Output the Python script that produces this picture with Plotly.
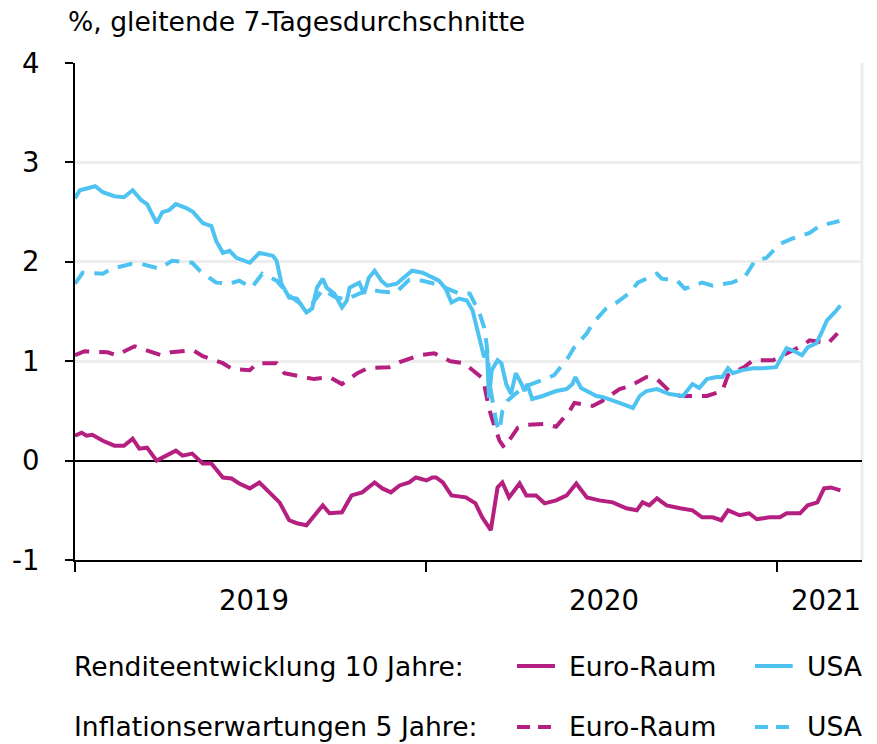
import plotly.graph_objects as go

# ---------------- data ----------------
us_yield_dates = [
    "2019-01-01", "2019-01-06", "2019-01-22", "2019-01-30", "2019-02-11", "2019-02-21",
    "2019-03-02", "2019-03-11", "2019-03-17", "2019-03-27", "2019-04-02", "2019-04-09",
    "2019-04-16", "2019-04-27", "2019-05-04", "2019-05-14", "2019-05-23", "2019-05-28",
    "2019-06-04", "2019-06-11", "2019-06-18", "2019-07-02", "2019-07-12", "2019-07-26",
    "2019-07-30", "2019-08-04", "2019-08-12", "2019-08-20", "2019-08-30", "2019-09-05",
    "2019-09-10", "2019-09-16", "2019-09-20", "2019-09-28", "2019-10-06", "2019-10-11",
    "2019-10-14", "2019-10-24", "2019-10-29", "2019-11-03", "2019-11-09", "2019-11-16",
    "2019-11-22", "2019-12-02", "2019-12-08", "2019-12-18", "2019-12-29",
    "2020-01-08", "2020-01-15", "2020-01-22", "2020-01-28", "2020-02-05", "2020-02-13",
    "2020-02-19", "2020-02-24", "2020-02-28", "2020-03-02", "2020-03-05", "2020-03-07",
    "2020-03-10", "2020-03-16", "2020-03-20", "2020-03-25", "2020-03-30", "2020-04-04",
    "2020-04-10", "2020-04-13", "2020-04-16", "2020-04-21", "2020-05-02", "2020-05-16",
    "2020-05-27", "2020-06-02", "2020-06-05", "2020-06-11", "2020-06-27", "2020-07-03",
    "2020-07-21", "2020-08-04", "2020-08-11", "2020-08-18", "2020-08-29", "2020-09-11",
    "2020-09-25", "2020-10-05", "2020-10-12", "2020-10-20", "2020-10-30", "2020-11-05",
    "2020-11-11", "2020-11-16", "2020-11-26", "2020-12-07", "2020-12-17", "2020-12-31",
    "2021-01-04", "2021-01-11", "2021-01-17", "2021-01-27", "2021-02-02", "2021-02-11",
    "2021-02-16", "2021-02-22", "2021-03-02", "2021-03-08",
]
us_yield = [
    2.64, 2.72, 2.76, 2.70, 2.66, 2.65,
    2.72, 2.62, 2.58, 2.39, 2.50, 2.52,
    2.58, 2.54, 2.50, 2.39, 2.36, 2.21,
    2.09, 2.11, 2.04, 1.99, 2.09, 2.06,
    2.01, 1.78, 1.64, 1.63, 1.49, 1.53,
    1.74, 1.83, 1.74, 1.68, 1.54, 1.61,
    1.74, 1.79, 1.68, 1.84, 1.91, 1.81,
    1.76, 1.78, 1.83, 1.91, 1.89,
    1.84, 1.81, 1.73, 1.59, 1.63, 1.61,
    1.51, 1.31, 1.18, 1.04, 1.11, 0.63,
    0.91, 1.01, 0.98, 0.77, 0.67, 0.88,
    0.77, 0.70, 0.77, 0.62, 0.65, 0.70,
    0.72, 0.77, 0.84, 0.73, 0.65, 0.64,
    0.58, 0.53, 0.65, 0.70, 0.72, 0.67,
    0.65, 0.77, 0.73, 0.82, 0.84, 0.84,
    0.93, 0.88, 0.91, 0.93, 0.93, 0.94,
    1.01, 1.13, 1.11, 1.06, 1.14, 1.18,
    1.28, 1.41, 1.49, 1.56,
]

eu_yield_dates = [
    "2019-01-01", "2019-01-08", "2019-01-13", "2019-01-19", "2019-01-30", "2019-02-11",
    "2019-02-21", "2019-03-02", "2019-03-09", "2019-03-17", "2019-03-27", "2019-04-06",
    "2019-04-16", "2019-04-23", "2019-05-03", "2019-05-14", "2019-05-23", "2019-06-04",
    "2019-06-13", "2019-06-21", "2019-07-02", "2019-07-12", "2019-07-23", "2019-08-02",
    "2019-08-12", "2019-08-20", "2019-08-30", "2019-09-09", "2019-09-16", "2019-09-23",
    "2019-10-06", "2019-10-16", "2019-10-27", "2019-11-09", "2019-11-17", "2019-11-26",
    "2019-12-05", "2019-12-15", "2019-12-22",
    "2020-01-02", "2020-01-08", "2020-01-12", "2020-01-19", "2020-01-28", "2020-02-12",
    "2020-02-22", "2020-02-29", "2020-03-09", "2020-03-16", "2020-03-21", "2020-03-28",
    "2020-04-08", "2020-04-15", "2020-04-25", "2020-05-04", "2020-05-16", "2020-05-27",
    "2020-06-06", "2020-06-17", "2020-06-30", "2020-07-14", "2020-07-28", "2020-08-08",
    "2020-08-14", "2020-08-21", "2020-08-29", "2020-09-08", "2020-09-22", "2020-10-05",
    "2020-10-15", "2020-10-26", "2020-11-04", "2020-11-11", "2020-11-23", "2020-12-03",
    "2020-12-11", "2020-12-24",
    "2021-01-04", "2021-01-11", "2021-01-25", "2021-02-02", "2021-02-12", "2021-02-19",
    "2021-02-26", "2021-03-08",
]
eu_yield = [
    0.25, 0.28, 0.25, 0.26, 0.20, 0.15,
    0.15, 0.22, 0.12, 0.13, 0.00, 0.05,
    0.10, 0.05, 0.07, -0.03, -0.03, -0.17,
    -0.18, -0.23, -0.28, -0.22, -0.33, -0.42,
    -0.60, -0.63, -0.65, -0.53, -0.45, -0.53,
    -0.52, -0.35, -0.32, -0.22, -0.28, -0.32,
    -0.25, -0.22, -0.17,
    -0.20, -0.17, -0.17, -0.22, -0.35, -0.37,
    -0.43, -0.57, -0.70, -0.27, -0.22, -0.37,
    -0.23, -0.35, -0.35, -0.43, -0.40, -0.35,
    -0.23, -0.37, -0.40, -0.42, -0.48, -0.50,
    -0.42, -0.45, -0.38, -0.45, -0.48, -0.50,
    -0.57, -0.57, -0.60, -0.50, -0.55, -0.53,
    -0.59, -0.57,
    -0.57, -0.53, -0.53, -0.45, -0.42, -0.28,
    -0.27, -0.30,
]

eu_infl_dates = [
    "2019-01-01", "2019-01-11", "2019-02-04", "2019-02-13", "2019-03-04", "2019-03-17",
    "2019-04-01", "2019-04-11", "2019-05-04", "2019-05-14", "2019-06-04", "2019-06-14",
    "2019-07-02", "2019-07-10", "2019-07-30", "2019-08-07", "2019-08-28", "2019-09-07",
    "2019-09-23", "2019-10-06", "2019-10-22", "2019-11-02", "2019-11-24", "2019-12-05",
    "2019-12-26",
    "2020-01-10", "2020-01-27", "2020-02-10", "2020-02-28", "2020-03-02", "2020-03-07",
    "2020-03-10", "2020-03-18", "2020-03-23", "2020-04-06", "2020-04-15", "2020-05-04",
    "2020-05-16", "2020-05-30", "2020-06-04", "2020-06-23", "2020-07-03", "2020-07-21",
    "2020-08-01", "2020-08-18", "2020-08-29", "2020-09-11", "2020-09-22", "2020-10-09",
    "2020-10-20", "2020-11-05", "2020-11-11", "2020-11-28", "2020-12-07", "2020-12-28",
    "2021-01-07", "2021-01-28", "2021-02-04", "2021-02-23", "2021-03-05",
]
eu_infl = [
    1.06, 1.10, 1.09, 1.06, 1.15, 1.11,
    1.06, 1.09, 1.11, 1.05, 0.98, 0.92,
    0.91, 0.98, 0.98, 0.88, 0.84, 0.82,
    0.84, 0.77, 0.88, 0.93, 0.94, 0.99,
    1.06,
    1.08, 1.00, 0.98, 0.84, 0.77, 0.53,
    0.43, 0.20, 0.13, 0.33, 0.36, 0.37,
    0.34, 0.50, 0.58, 0.55, 0.60, 0.72,
    0.75, 0.84, 0.82, 0.70, 0.65, 0.65,
    0.65, 0.70, 0.86, 0.94, 1.01, 1.01,
    1.06, 1.16, 1.21, 1.18, 1.28,
]

us_infl_dates = [
    "2019-01-01", "2019-01-09", "2019-01-30", "2019-02-08", "2019-03-01", "2019-03-11",
    "2019-03-30", "2019-04-12", "2019-05-03", "2019-05-11", "2019-05-28", "2019-06-11",
    "2019-06-21", "2019-07-04", "2019-07-15", "2019-07-30", "2019-08-12", "2019-08-25",
    "2019-09-05", "2019-09-16", "2019-09-28", "2019-10-10", "2019-10-24", "2019-11-05",
    "2019-11-16", "2019-12-01", "2019-12-15", "2019-12-29",
    "2020-01-14", "2020-02-05", "2020-02-16", "2020-02-26", "2020-03-02", "2020-03-05",
    "2020-03-09", "2020-03-15", "2020-03-18", "2020-03-21", "2020-03-26", "2020-04-12",
    "2020-05-04", "2020-05-14", "2020-05-28", "2020-06-04", "2020-06-17", "2020-06-23",
    "2020-07-07", "2020-07-18", "2020-08-01", "2020-08-09", "2020-08-29", "2020-09-03",
    "2020-09-19", "2020-09-27", "2020-10-15", "2020-10-26", "2020-11-15", "2020-11-28",
    "2020-12-09", "2020-12-21",
    "2021-01-04", "2021-01-16", "2021-02-04", "2021-02-14", "2021-03-07",
]
us_infl = [
    1.78, 1.89, 1.88, 1.93, 1.98, 1.98,
    1.93, 2.01, 1.99, 1.91, 1.79, 1.78,
    1.81, 1.74, 1.88, 1.81, 1.66, 1.57,
    1.58, 1.72, 1.65, 1.62, 1.68, 1.72,
    1.70, 1.69, 1.82, 1.81,
    1.77, 1.68, 1.68, 1.49, 1.34, 1.14,
    0.70, 0.37, 0.30, 0.50, 0.60, 0.74,
    0.82, 0.86, 1.03, 1.14, 1.28, 1.38,
    1.53, 1.59, 1.69, 1.79, 1.88, 1.83,
    1.81, 1.73, 1.79, 1.76, 1.79, 1.84,
    2.01, 2.04,
    2.18, 2.23, 2.29, 2.36, 2.41,
]

y_ticks = [-1, 0, 1, 2, 3, 4]
y_tick_text = ["-1", "0", "1", "2", "3", "4"]
year_ticks = ["2019-01-01", "2020-01-01", "2021-01-01"]
year_labels = ["2019", "2020", "2021"]
year_label_pos = ["2019-07-06", "2020-07-05", "2021-02-21"]
x_range = ["2019-01-01", "2021-03-30 12:00"]
title_text = "%, gleitende 7-Tagesdurchschnitte"
legend_rows = ["Renditeentwicklung 10 Jahre:", "Inflationserwartungen 5 Jahre:"]
legend_names = ["Euro-Raum", "USA"]

# ---------------- style ----------------
MAGENTA = "#B41F80"
CYAN = "#4EC3F1"
FONT = "DejaVu Sans"
FS = 26.6
FS_TICK = 27.5
LW = 4
DASH = "15px,10px"

fig = go.Figure()
fig.add_trace(go.Scatter(x=eu_infl_dates, y=eu_infl, mode="lines",
                         line=dict(color=MAGENTA, width=LW, dash=DASH)))
fig.add_trace(go.Scatter(x=us_infl_dates, y=us_infl, mode="lines",
                         line=dict(color=CYAN, width=LW, dash=DASH)))
fig.add_trace(go.Scatter(x=eu_yield_dates, y=eu_yield, mode="lines",
                         line=dict(color=MAGENTA, width=LW)))
fig.add_trace(go.Scatter(x=us_yield_dates, y=us_yield, mode="lines",
                         line=dict(color=CYAN, width=LW)))

fig.update_layout(
    width=877, height=744,
    margin=dict(l=75, r=15, t=63, b=184, pad=0, autoexpand=False),
    paper_bgcolor="white", plot_bgcolor="white",
    showlegend=False,
    font=dict(family=FONT, size=FS, color="black"),
    xaxis=dict(
        type="date", range=x_range, automargin=False,
        tickvals=year_ticks, ticktext=["", "", ""],
        ticks="outside", ticklen=10, tickwidth=2, tickcolor="black",
        showgrid=False, zeroline=False,
        showline=True, linecolor="black", linewidth=2,
    ),
    yaxis=dict(
        range=[-1, 4], tickvals=y_ticks, ticktext=y_tick_text, automargin=False,
        ticks="outside", ticklen=8, tickwidth=2, tickcolor="black",
        showgrid=True, gridcolor="#EDEDED", gridwidth=3,
        zeroline=True, zerolinecolor="black", zerolinewidth=2,
        showline=True, linecolor="black", linewidth=2,
        ticklabelstandoff=20,
        tickfont=dict(family=FONT, size=FS_TICK, color="black"),
    ),
)

# right frame line (light grey)
fig.add_shape(type="line", xref="paper", yref="paper", x0=1, x1=1, y0=0, y1=1,
              line=dict(color="#EDEDED", width=3), layer="below")

# title
fig.add_annotation(text=title_text, xref="paper", yref="paper", x=-0.009, y=1.0825,
                   xanchor="left", yanchor="middle", showarrow=False, xshift=-2,
                   font=dict(family=FONT, size=FS, color="black"))

# year labels
for pos, lab in zip(year_label_pos, year_labels):
    fig.add_annotation(text=lab, xref="x", yref="paper", x=pos, y=-0.081,
                       xanchor="center", yanchor="middle", showarrow=False,
                       font=dict(family=FONT, size=FS_TICK, color="black"))

# custom legend
row_y = [-0.2133, -0.336]
for i, (ry, rlab) in enumerate(zip(row_y, legend_rows)):
    fig.add_annotation(text=rlab, xref="paper", yref="paper", x=0.0, y=ry,
                       xanchor="left", yanchor="middle", showarrow=False, xshift=-3,
                       font=dict(family=FONT, size=FS, color="black"))
    for (x0, x1, tx), col, nm in zip([(0.5616, 0.6099, 0.629), (0.864, 0.912, 0.931)],
                                     [MAGENTA, CYAN], legend_names):
        ldash = "solid" if i == 0 else "13px,8px"
        fig.add_shape(type="line", xref="paper", yref="paper", x0=x0, x1=x1,
                      y0=ry, y1=ry, line=dict(color=col, width=LW, dash=ldash))
        fig.add_annotation(text=nm, xref="paper", yref="paper", x=tx, y=ry,
                           xanchor="left", yanchor="middle", showarrow=False, xshift=-3,
                           font=dict(family=FONT, size=FS, color="black"))

fig.write_html("out.html", config={"displayModeBar": False},
               post_script="document.body.style.margin='0';document.body.style.overflow='hidden';")
